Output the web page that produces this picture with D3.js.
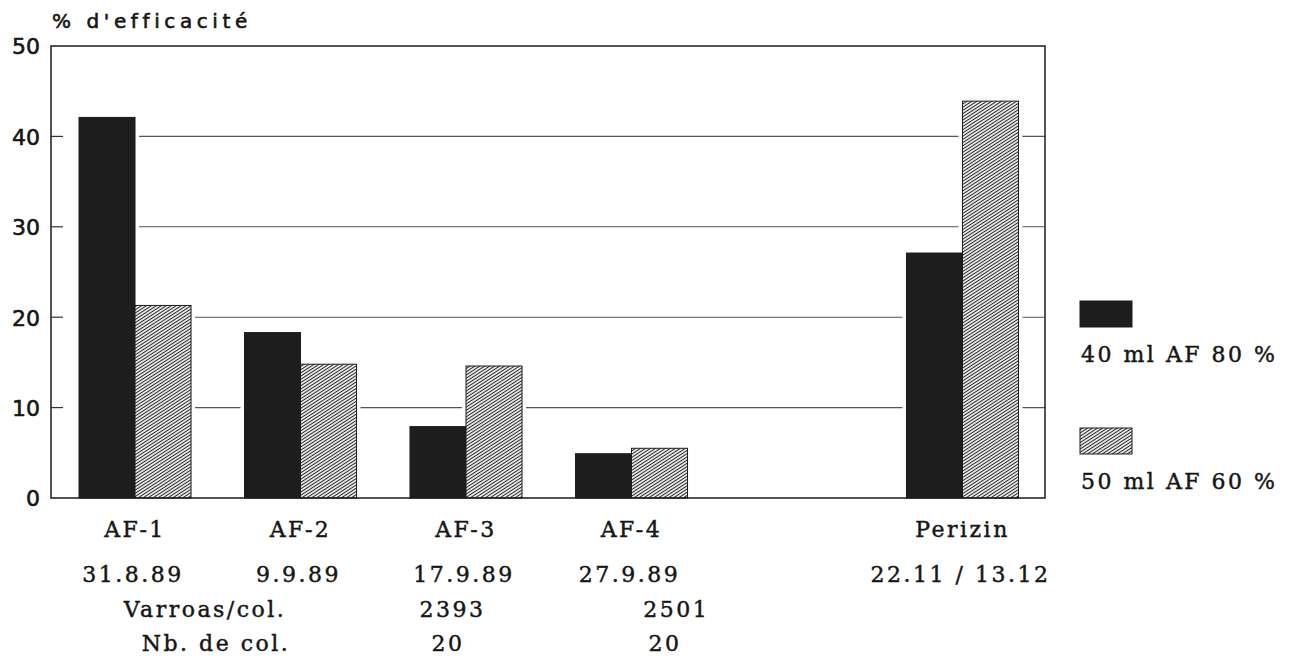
<!DOCTYPE html>
<html>
<head>
<meta charset="utf-8">
<script src="https://cdn.jsdelivr.net/npm/d3@7"></script>
<style>
  html, body { margin: 0; padding: 0; background: #fff; }
  svg { display: block; }
  .serif { font-family: "DejaVu Serif", serif; fill: #161616; stroke: #161616; stroke-width: 0.45px; }
  .sans { font-family: "DejaVu Sans", sans-serif; fill: #161616; stroke: #161616; stroke-width: 0.6px; }
</style>
</head>
<body>
<script>
// ---- data ----
const categories = ["AF-1", "AF-2", "AF-3", "AF-4", "Perizin"];
const slots = ["AF-1", "AF-2", "AF-3", "AF-4", "(vide)", "Perizin"];
const dates = ["31.8.89", "9.9.89", "17.9.89", "27.9.89", "22.11 / 13.12"];
const series40 = [42.1, 18.3, 7.9, 4.9, 27.1];
const series50 = [21.3, 14.8, 14.6, 5.5, 43.9];
const seriesNames = ["40 ml AF 80 %", "50 ml AF 60 %"];
const yTicks = [0, 10, 20, 30, 40, 50];
const gridTicks = [10, 20, 30, 40];
const yTitle = "% d'efficacité";
const varroasLabel = "Varroas/col.";
const nbColLabel = "Nb. de col.";
const varroasValues = ["2393", "2501"];
const nbColValues = ["20", "20"];
const varroasCats = ["AF-3", "AF-4"];

// ---- layout ----
const W = 1309, H = 659;
const plot = { left: 51, right: 1045, top: 46, bottom: 498 };

const svg = d3.select("body").append("svg").attr("width", W).attr("height", H);

const defs = svg.append("defs");
const pat = defs.append("pattern")
  .attr("id", "hatch").attr("patternUnits", "userSpaceOnUse")
  .attr("width", 8).attr("height", 2.7)
  .attr("patternTransform", "rotate(-33)");
pat.append("rect").attr("width", 8).attr("height", 2.7).attr("fill", "#fff");
pat.append("line").attr("x1", 0).attr("x2", 8).attr("y1", 1.35).attr("y2", 1.35)
  .attr("stroke", "#222").attr("stroke-width", 1.1);

const x = d3.scaleBand().domain(slots).range([79, 1018.5]).paddingInner(0.323).paddingOuter(0);
const bw = x.bandwidth();
const xs = d3.scaleBand().domain([0, 1]).range([0, bw]);
const y = d3.scaleLinear().domain([0, 50]).range([plot.bottom, plot.top]);

const data = categories.map((c, i) => ({ cat: c, date: dates[i], vals: [series40[i], series50[i]] }));
const barData = [];
data.forEach(d => d.vals.forEach((v, k) => barData.push({ cat: d.cat, v, k })));

// gridlines
const firstX = x(categories[0]);
svg.append("g").selectAll("line").data(gridTicks).join("line")
  .attr("x1", firstX).attr("x2", plot.right)
  .attr("y1", d => y(d)).attr("y2", d => y(d))
  .attr("stroke", "#555").attr("stroke-width", 1.1);

// knockouts around each bar
const pad = 4;
svg.append("g").selectAll("rect").data(barData).join("rect")
  .attr("x", d => x(d.cat) + xs(d.k) - pad)
  .attr("width", xs.bandwidth() + 2 * pad)
  .attr("y", d => y(d.v) - pad)
  .attr("height", d => plot.bottom - y(d.v) + pad)
  .attr("fill", "#fff");

// bars
svg.append("g").selectAll("rect").data(barData).join("rect")
  .attr("x", d => x(d.cat) + xs(d.k))
  .attr("width", xs.bandwidth())
  .attr("y", d => y(d.v))
  .attr("height", d => plot.bottom - y(d.v))
  .attr("fill", d => d.k === 0 ? "#1d1d1d" : "url(#hatch)")
  .attr("stroke", "#1d1d1d").attr("stroke-width", 1);

// frame
svg.append("rect")
  .attr("x", plot.left).attr("y", plot.top)
  .attr("width", plot.right - plot.left).attr("height", plot.bottom - plot.top)
  .attr("fill", "none").attr("stroke", "#1a1a1a").attr("stroke-width", 1.5);

// y axis ticks and labels
const yAxis = d3.axisLeft(y).tickValues(yTicks).tickSize(0).tickPadding(11).tickFormat(d3.format("d"));
const ya = svg.append("g").attr("transform", `translate(${plot.left},0)`).call(yAxis);
ya.select(".domain").remove();
ya.selectAll("text").attr("class", "sans").attr("font-size", 22).attr("fill", "#161616").attr("dy", "0.36em");
svg.append("g").selectAll("line").data(gridTicks).join("line")
  .attr("x1", plot.left).attr("x2", plot.left + 12)
  .attr("y1", d => y(d)).attr("y2", d => y(d))
  .attr("stroke", "#333").attr("stroke-width", 1.2);

// title
svg.append("text").attr("class", "sans").attr("x", 52).attr("y", 28)
  .attr("font-size", 20).attr("letter-spacing", 4.6).text(yTitle);

// category labels (x axis)
const fs = 22, ls = 2.5;
const xAxis = d3.axisBottom(x).tickValues(categories).tickSize(0).tickPadding(0);
const xa = svg.append("g").attr("transform", `translate(0,${plot.bottom})`).call(xAxis);
xa.select(".domain").remove();
xa.selectAll("text").attr("class", "serif").attr("font-size", fs).attr("letter-spacing", ls)
  .attr("fill", "#161616").attr("y", 38.5).attr("dy", 0);

svg.append("g").selectAll("text").data(data).join("text")
  .attr("class", "serif").attr("font-size", fs).attr("letter-spacing", ls)
  .attr("text-anchor", "middle")
  .attr("x", d => x(d.cat) + bw / 2 - 2).attr("y", 582)
  .text(d => d.date);

// Varroas / Nb. de col rows
svg.append("text").attr("class", "serif").attr("font-size", fs).attr("letter-spacing", ls)
  .attr("text-anchor", "middle").attr("x", x("AF-1") + 126).attr("y", 617).text(varroasLabel);
svg.append("text").attr("class", "serif").attr("font-size", fs).attr("letter-spacing", ls)
  .attr("text-anchor", "middle").attr("x", x("AF-1") + 137).attr("y", 651).text(nbColLabel);
const offV = [0.38, 0.9], offN = [0.34, 0.8];
svg.append("g").selectAll("text").data(varroasValues).join("text")
  .attr("class", "serif").attr("font-size", fs).attr("letter-spacing", ls).attr("text-anchor", "middle")
  .attr("x", (d, i) => x(varroasCats[i]) + offV[i] * bw).attr("y", 617).text(d => d);
svg.append("g").selectAll("text").data(nbColValues).join("text")
  .attr("class", "serif").attr("font-size", fs).attr("letter-spacing", ls).attr("text-anchor", "middle")
  .attr("x", (d, i) => x(varroasCats[i]) + offN[i] * bw).attr("y", 651).text(d => d);

// legend
const legend = svg.append("g").attr("transform", "translate(1080,0)");
const legY = [301, 428];
seriesNames.forEach((name, i) => {
  legend.append("rect").attr("x", 0).attr("y", legY[i]).attr("width", 52).attr("height", 26)
    .attr("fill", i === 0 ? "#1d1d1d" : "url(#hatch)").attr("stroke", "#1d1d1d").attr("stroke-width", 1);
  legend.append("text").attr("class", "serif").attr("font-size", 22).attr("letter-spacing", 2.5)
    .attr("x", 1).attr("y", legY[i] + 61).text(name);
});
</script>
</body>
</html>
